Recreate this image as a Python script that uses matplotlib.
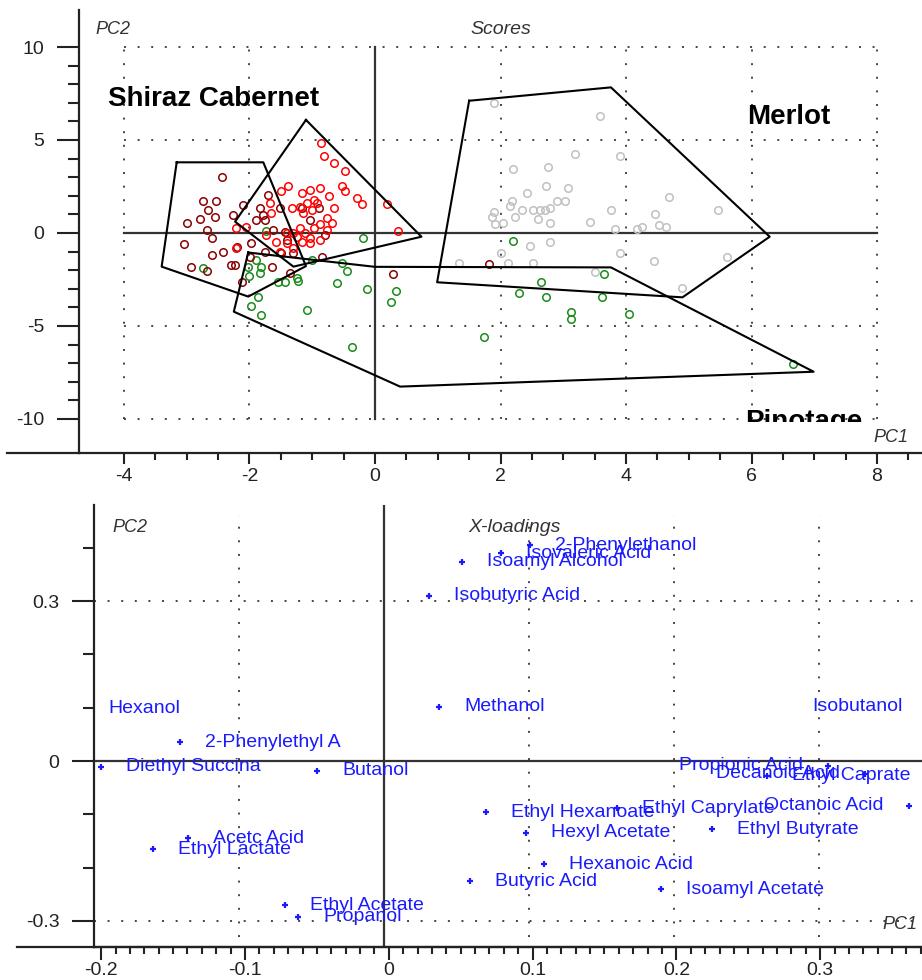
import matplotlib
matplotlib.use("Agg")
import numpy as np
import matplotlib.pyplot as plt
from matplotlib.lines import Line2D
from matplotlib.ticker import MultipleLocator, FixedLocator
from matplotlib.transforms import Bbox, TransformedBbox

plt.rcParams['font.family'] = ['Liberation Sans', 'DejaVu Sans']
plt.rcParams['axes.unicode_minus'] = False

# ---- scores (PC1, PC2) ----
maroon_x = [-2.44, -2.74, -2.54, -2.66, -2.55, -2.79, -2.99, -2.68, -2.59, -3.05, -2.42, -2.59,
            -2.94, -2.67, -2.30, -2.23, -2.12, -1.98, -2.10, -2.26, -1.83, -1.78, -1.70, -1.89,
            -1.75, -1.62, -1.41, -1.44, -1.64, -1.49, -1.36, -1.17, -1.04, -0.90, -0.80, -0.85,
            0.29, 1.82, -2.20, -1.99, -1.75, -1.30, -1.51]
maroon_y = [3.03, 1.74, 1.74, 1.24, 0.88, 0.73, 0.52, 0.16, -0.27, -0.61, -1.00, -1.18,
            -1.81, -2.03, -1.70, -1.70, -2.63, -0.52, 1.50, 0.97, 1.33, 0.97, 2.04, 0.70,
            0.70, 0.16, -0.38, 0.07, -1.81, -1.09, -2.17, 1.33, 0.70, 1.33, -0.11, -1.27,
            -2.20, -1.68, -0.77, -1.27, -1.04, -1.09, 1.33]

red_x = [-0.86, -0.82, -0.65, -0.48, -0.53, -0.48, -0.28, -0.21, 0.19, 0.36, -1.38, -1.49,
         -1.17, -1.04, -0.88, -0.73, -0.98, -1.09, -0.93, -1.67, -1.33, -1.20, -1.01, -0.65,
         -1.65, -1.14, -0.77, -0.68, -0.88, -0.98, -1.20, -1.30, -1.41, -1.11, -0.77, -2.22,
         -2.05, -1.73, -1.57, -1.41, -1.17, -1.04, -0.88, -1.04, -2.22, -1.25, -1.30, -1.52]
red_y = [4.86, 4.16, 3.75, 3.35, 2.55, 2.26, 1.86, 1.54, 1.54, 0.11, 2.55, 2.26,
         2.13, 2.31, 2.40, 1.99, 1.77, 1.59, 1.59, 1.59, 1.33, 1.42, 1.24, 1.33,
         1.06, 1.06, 0.82, 0.55, 0.48, 0.25, 0.25, -0.02, -0.02, -0.02, 0.16, 0.25,
         0.34, -0.11, -0.47, -0.56, -0.47, -0.29, -0.38, -0.56, -0.79, -0.23, -0.83, -1.00]

green_x = [-0.19, -1.74, -2.74, -1.89, -1.81, -2.00, -1.83, -1.54, -1.44, -1.25, -1.22, -1.01,
           -0.53, -0.45, -0.60, -0.13, 0.33, 0.25, -1.86, -1.98, -1.81, -1.09, -0.36, -2.02,
           2.20, 2.64, 2.29, 2.73, 3.65, 3.62, 3.13, 3.13, 4.05, 1.74, 6.66]
green_y = [-0.29, 0.11, -1.90, -1.45, -1.81, -2.29, -2.17, -2.62, -2.62, -2.44, -2.56, -1.45,
           -1.63, -2.03, -2.71, -3.03, -3.12, -3.73, -3.42, -3.93, -4.41, -4.14, -6.11, -1.81,
           -0.41, -2.62, -3.24, -3.46, -2.22, -3.46, -4.23, -4.64, -4.35, -5.57, -7.06]

gray_x = [1.89, 3.59, 3.19, 3.90, 2.20, 2.75, 2.72, 3.07, 2.43, 2.18, 2.15, 2.90, 3.02,
          4.69, 5.47, 1.89, 1.86, 1.91, 2.04, 2.23, 2.35, 2.52, 2.63, 2.71, 2.79, 2.60,
          2.79, 3.76, 3.42, 3.82, 4.17, 4.26, 4.46, 4.52, 4.63, 2.47, 2.79, 2.00, 3.90,
          4.44, 5.61, 1.34, 2.12, 2.52, 3.51, 4.89]
gray_y = [6.97, 6.29, 4.25, 4.16, 3.44, 3.53, 2.54, 2.44, 2.13, 1.74, 1.45, 1.74, 1.74,
          1.94, 1.22, 1.15, 0.84, 0.47, 0.52, 0.84, 1.24, 1.24, 1.24, 1.24, 1.33, 0.74,
          0.52, 1.22, 0.61, 0.20, 0.20, 0.34, 1.00, 0.43, 0.34, -0.68, -0.48, -1.09, -1.09,
          -1.51, -1.31, -1.60, -1.60, -1.60, -2.11, -2.94]

# group outlines
hull_maroon_x = [-3.16, -1.78, -1.10, -2.02, -3.40, -3.16]
hull_maroon_y = [3.80, 3.80, -1.78, -3.42, -1.81, 3.80]
hull_red_x = [-1.10, 0.74, -1.30, -2.23, -1.10]
hull_red_y = [6.08, -0.20, -1.81, 0.61, 6.08]
hull_green_x = [-2.02, 0.00, 3.76, 6.99, 0.40, -2.25, -2.02]
hull_green_y = [-1.05, -1.82, -1.85, -7.46, -8.26, -4.23, -1.05]
hull_gray_x = [1.50, 3.76, 6.29, 4.90, 0.99, 1.50]
hull_gray_y = [7.11, 7.83, -0.20, -3.46, -2.65, 7.11]

# ---- X-loadings ----
var_names = ['Hexanol', '2-Phenylethyl A', 'Diethyl Succina', 'Butanol', 'Acetc Acid',
             'Ethyl Lactate', 'Ethyl Acetate', 'Propanol', 'Isobutyric Acid', 'Methanol',
             'Isoamyl Alcohol', 'Isovaleric Acid', '2-Phenylethanol', 'Isobutanol',
             'Propionic Acid', 'Decanoic Acid', 'Ethyl Caprate', 'Ethyl Caprylate',
             'Octanoic Acid', 'Ethyl Butyrate', 'Ethyl Hexanoate', 'Hexyl Acetate',
             'Hexanoic Acid', 'Butyric Acid', 'Isoamyl Acetate']
load_x = [-0.207, -0.141, -0.195, -0.046, -0.135, -0.159, -0.068, -0.059, 0.031, 0.038,
          0.054, 0.081, 0.101, 0.375, 0.306, 0.332, 0.264, 0.161, 0.362, 0.226,
          0.070, 0.098, 0.110, 0.059, 0.191]
load_y = [0.099, 0.035, -0.011, -0.018, -0.145, -0.166, -0.271, -0.292, 0.310, 0.102,
          0.374, 0.390, 0.405, 0.102, -0.009, -0.024, -0.028, -0.089, -0.084, -0.128,
          -0.096, -0.135, -0.194, -0.226, -0.241]

W, H = 922, 980
fig = plt.figure(figsize=(W / 100, H / 100), dpi=100)
fig.patch.set_facecolor('white')
ax1 = fig.add_axes([79 / W, 1 - 453 / H, 843 / W, 443 / H])
ax2 = fig.add_axes([94.3 / W, 1 - 946.7 / H, 827.7 / W, 441.7 / H])
# the loadings tick scale sits a few pixels off the plotting scale in the original,
# so the x ticks get their own transparent axes on top of ax2
ax2t = fig.add_axes([94.3 / W, 1 - 946.7 / H, 827.7 / W, 441.7 / H], facecolor='none')

axis_col = '#222222'
grid_col = '#444444'
dots = (0, (1, 6))


def style_axes(ax):
    for s in ['top', 'right']:
        ax.spines[s].set_visible(False)
    for s in ['left', 'bottom']:
        ax.spines[s].set_linewidth(1.6)
        ax.spines[s].set_color(axis_col)
    ax.tick_params(which='both', direction='out', width=1.5, color=axis_col,
                   labelsize=14, labelcolor='#222222')
    ax.tick_params(axis='y', which='major', length=16, pad=9)
    ax.tick_params(axis='y', which='minor', length=8)
    ax.tick_params(axis='x', which='major', length=8, pad=3)
    ax.tick_params(axis='x', which='minor', length=5)


# ---------------- Scores ----------------
style_axes(ax1)
ax1.set_xlim(-4.717, 8.717)
ax1.set_ylim(-11.83, 11.99)
ax1.xaxis.set_major_locator(MultipleLocator(2))
ax1.xaxis.set_minor_locator(FixedLocator(np.arange(-4, 8.6, 0.5)))
ax1.yaxis.set_major_locator(MultipleLocator(5))
ax1.yaxis.set_minor_locator(FixedLocator(np.arange(-10, 10.5, 1)))

for gx in [-4, -2, 2, 4, 6, 8]:
    ax1.plot([gx, gx], [-10, 10], ls=dots, lw=1.4, color=grid_col, zorder=1)
for gy in [10, 5, -5, -10]:
    ax1.plot([-4, 8], [gy, gy], ls=dots, lw=1.4, color=grid_col, zorder=1)
ax1.plot([-4, 8], [0, 0], color='#333333', lw=1.6, zorder=1)
ax1.plot([0, 0], [-10, 10], color='#333333', lw=1.6, zorder=1)

for xs, ys, c in [(gray_x, gray_y, '#c0c0c0'), (green_x, green_y, '#1a8c1a'),
                  (maroon_x, maroon_y, '#8b0000'), (red_x, red_y, '#ff0000')]:
    ax1.plot(xs, ys, 'o', ms=5.4, mfc='none', mec=c, mew=1.1, zorder=3)

for hx, hy in [(hull_maroon_x, hull_maroon_y), (hull_red_x, hull_red_y),
               (hull_green_x, hull_green_y), (hull_gray_x, hull_gray_y)]:
    ax1.plot(hx, hy, color='black', lw=1.5, zorder=4)

ax1.text(-4.255, 6.83, 'Shiraz Cabernet', fontsize=20, fontweight='bold', va='baseline')
ax1.text(5.93, 5.84, 'Merlot', fontsize=20, fontweight='bold', va='baseline')
pino = ax1.text(5.90, -10.54, 'Pinotage', fontsize=20, fontweight='bold', va='baseline')
pino.set_clip_box(TransformedBbox(Bbox([[-4.717, -10.15], [8.717, 11.99]]), ax1.transData))
pino.set_clip_on(True)

ax1.text(0.020, 0.955, 'PC2', transform=ax1.transAxes, fontsize=13, style='italic',
         color='#333333', va='center')
ax1.text(0.464, 0.955, 'Scores', transform=ax1.transAxes, fontsize=14, style='italic',
         color='#333333', va='center')
ax1.text(0.942, 0.036, 'PC1', transform=ax1.transAxes, fontsize=13, style='italic',
         color='#333333', va='center')

# ---------------- X-loadings ----------------
style_axes(ax2)
ax2.set_xlim(-0.1998, 0.3710)
ax2.set_ylim(-0.3484, 0.4803)
ax2.xaxis.set_major_locator(FixedLocator([]))
ax2.tick_params(axis='x', which='both', length=0, labelbottom=False)
ax2.yaxis.set_major_locator(FixedLocator([-0.3, 0, 0.3]))
ax2.yaxis.set_minor_locator(MultipleLocator(0.1))
ax2.set_yticklabels(['-0.3', '0', '0.3'])

ax2t.set_xlim(-0.2048, 0.3708)
ax2t.set_ylim(0, 1)
for s in ['top', 'right', 'left']:
    ax2t.spines[s].set_visible(False)
ax2t.spines['bottom'].set_linewidth(1.6)
ax2t.spines['bottom'].set_color(axis_col)
ax2t.yaxis.set_visible(False)
ax2t.xaxis.set_major_locator(MultipleLocator(0.1))
ax2t.xaxis.set_minor_locator(MultipleLocator(0.01))
ax2t.tick_params(which='both', direction='out', width=1.5, color=axis_col,
                 labelsize=14, labelcolor='#222222')
ax2t.tick_params(which='major', length=9, pad=2)
ax2t.tick_params(which='minor', length=5)
ax2t.xaxis.set_major_formatter(lambda v, p: '0' if abs(v) < 1e-9 else f'{v:.1f}')

for gx in [-0.1, 0.1, 0.2, 0.3]:
    ax2.plot([gx, gx], [-0.33, 0.4615], ls=dots, lw=1.4, color=grid_col, zorder=1)
for gy in [0.3, -0.3]:
    ax2.plot([-0.2, 0.371], [gy, gy], ls=dots, lw=1.4, color=grid_col, zorder=1)
ax2.plot([-0.2, 0.371], [0, 0], color='#333333', lw=1.6, zorder=1)
ax2.axvline(0, color='#333333', lw=1.6, zorder=1)

blue = '#1a1aff'
ax2.plot(load_x, load_y, '+', ms=4.5, mew=1.6, color=blue, zorder=3)
labels = []
for name, lx, ly in zip(var_names, load_x, load_y):
    t = ax2.annotate(name, (lx, ly), xytext=(18, 0), textcoords='offset points',
                     va='center', ha='left', fontsize=14, color=blue,
                     annotation_clip=False, zorder=4)
    labels.append(t)

ax2.text(0.0214, 0.948, 'PC2', transform=ax2.transAxes, fontsize=13, style='italic',
         color='#333333', va='center')
ax2.text(0.4515, 0.948, 'X-loadings', transform=ax2.transAxes, fontsize=14, style='italic',
         color='#333333', va='center')
ax2.text(0.9517, 0.051, 'PC1', transform=ax2.transAxes, fontsize=13, style='italic',
         color='#333333', va='center')

# axis lines run a little to the left of the y axis
fig.add_artist(Line2D([7 / W, 79 / W], [1 - 453 / H] * 2, color=axis_col, lw=1.6))
fig.add_artist(Line2D([17 / W, 94.3 / W], [1 - 946.7 / H] * 2, color=axis_col, lw=1.6))

# labels that would run off the right edge go to the left of their point
fig.canvas.draw()
right_edge = ax2.get_window_extent().x1
for t in labels:
    if t.get_window_extent().x1 > right_edge:
        t.set_position((-18, 0))
        t.set_ha('right')

fig.savefig('out.png', dpi=100, facecolor='white')
